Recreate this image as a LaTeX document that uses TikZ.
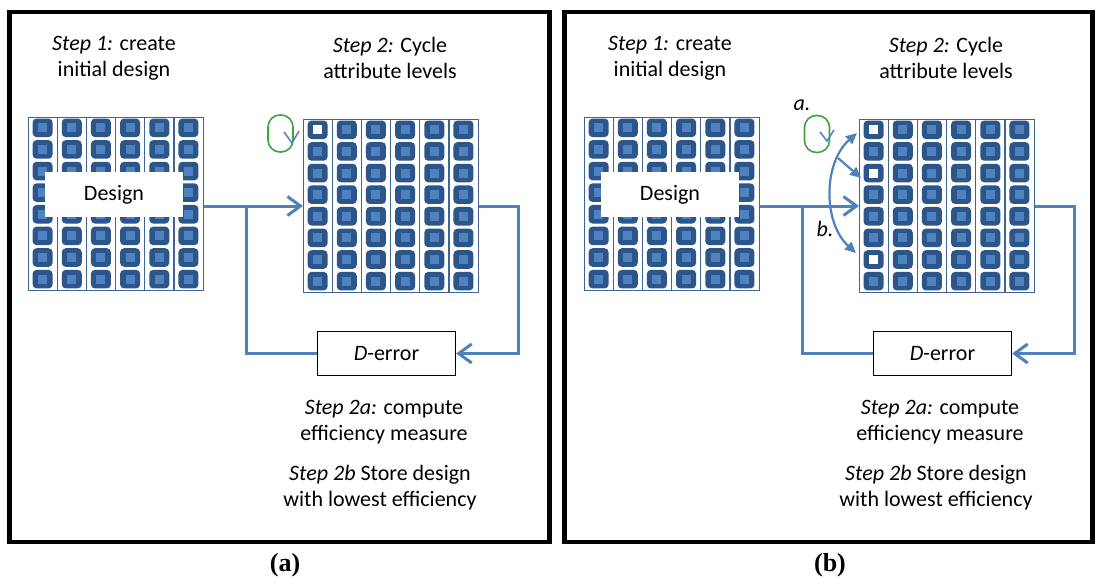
\documentclass[tikz,border=0pt]{standalone}
\usepackage{fontspec}
\setmainfont{Carlito}
\newfontfamily\capfont{Liberation Serif}
\usetikzlibrary{arrows.meta}
\definecolor{lineblue}{HTML}{4F81BD}
\definecolor{gridline}{HTML}{3F6496}
\definecolor{sqdark}{HTML}{2C568A}
\definecolor{sqlight}{HTML}{4F82C0}
\definecolor{loopgreen}{HTML}{3FA33F}
\tikzset{
  frame/.style={draw=black,line width=4.5pt},
  gridbox/.style={draw=gridline,line width=1.3pt,fill=white,minimum width=175pt,minimum height=173pt,inner sep=0pt,anchor=north west},
  conn/.style={draw=lineblue,line width=3pt,line join=miter},
  openarrow/.style={-{Straight Barb[length=13pt,width=19pt,line width=3pt]}},
  arcconn/.style={draw=lineblue,line width=2.2pt},
  filltip/.tip={Triangle[length=11pt,width=10pt]},
  txt/.style={font=\fontsize{22}{26}\selectfont,align=center,inner sep=0pt},
  dbox/.style={draw=black,line width=1.3pt,fill=white,minimum width=138pt,minimum height=44pt,font=\fontsize{22}{26}\selectfont},
  designbox/.style={fill=white,minimum width=138pt,minimum height=45pt,font=\fontsize{22}{26}\selectfont},
  loopst/.style={draw=loopgreen,line width=1.6pt,rounded corners=12pt,minimum width=25pt,minimum height=37pt,inner sep=0pt},
  vmark/.style={draw=lineblue,line width=1.5pt},
  captxt/.style={font=\capfont\bfseries\fontsize{26}{28}\selectfont,inner sep=0pt},
}
\newcommand\mysquares[2]{%
  \foreach \i in {0,...,5}{\foreach \j in {0,...,7}{%
    \fill[sqdark,rounded corners=4pt] ({#1+(\i+0.5)*29.17-10},{#2+(\j+0.5)*21.62-9.3}) rectangle ++(20,18.6);
    \fill[sqlight] ({#1+(\i+0.5)*29.17-4.5},{#2+(\j+0.5)*21.62-4.5}) rectangle ++(9,9);
  }}%
  \foreach \i in {1,...,5}{\draw[gridline,line width=1.3pt] ({#1+\i*29.17},#2) -- ++(0,173);}%
}
\newcommand\mywhite[3]{% x0 y0 row
  \fill[white] ({#1+0.5*29.17-4.5},{#2+(#3+0.5)*21.62-4.5}) rectangle ++(9,9);
}
\begin{document}
\begin{tikzpicture}[x=1pt,y=-1pt]
\useasboundingbox (0,0) rectangle (1096,584);
% frames
\draw[frame] (9.5,12) rectangle (549.5,542);
\draw[frame] (564.5,12) rectangle (1092.5,542);

% ================= panel (a)
\node[txt] (s1a) at (114,58) {\textit{Step 1:} create\\initial design};
\node[txt] (s2a) at (390,58) {\textit{Step 2:} Cycle\\attribute levels};
\node[gridbox] (g1a) at (28,117) {};
\mysquares{28}{117}
\node[designbox] (desa) at (114,194.5) {Design};
\node[gridbox] (g2a) at (303,119) {};
\mysquares{303}{119}
\mywhite{303}{119}{0}
\node[loopst] (la) at (280.5,133.5) {};
\draw[vmark] (284,132) -- (292,143) -- (299,131);
\node[dbox] (da) at (386.5,353.5) {\textit{D}-error};
\coordinate (ya) at (0,206);
\coordinate (ja) at (246,206);
\coordinate (ra) at (518,206);
\draw[conn,openarrow] (g1a.east |- ya) -- (g2a.west |- ya);
\draw[conn] (da.west) -| (ja);
\draw[conn,openarrow] (g2a.east |- ya) -- (ra) |- (da.east);
\node[txt] (s2aa) at (384,422) {\textit{Step 2a:} compute\\efficiency measure};
\node[txt] (s2ba) at (380,488) {\textit{Step 2b} Store design\\with lowest efficiency};
\node[captxt] (capa) at (285,565) {(a)};

% ================= panel (b)
\node[txt] (s1b) at (670,58) {\textit{Step 1:} create\\initial design};
\node[txt] (s2b) at (946,58) {\textit{Step 2:} Cycle\\attribute levels};
\node[gridbox] (g1b) at (584,117) {};
\mysquares{584}{117}
\node[designbox] (desb) at (670,194.5) {Design};
\node[gridbox] (g2b) at (859,119) {};
\mysquares{859}{119}
\mywhite{859}{119}{0}
\mywhite{859}{119}{2}
\mywhite{859}{119}{6}
\node[loopst] (lb) at (817,134) {};
\draw[vmark] (820,132) -- (827,141) -- (834,130);
\node[txt] (alab) at (802,105) {\textit{a.}};
\node[txt] (blab) at (825,229) {\textit{b.}};
\node[dbox] (db) at (942.5,353.5) {\textit{D}-error};
\coordinate (yb) at (0,206);
\coordinate (jb) at (802,206);
\coordinate (rb) at (1074,206);
\draw[conn,openarrow] (g1b.east |- yb) -- (g2b.west |- yb);
\draw[conn] (db.west) -| (jb);
\draw[conn,openarrow] (g2b.east |- yb) -- (rb) |- (db.east);
\coordinate (arct) at (857,133);
\coordinate (arcb) at (856,253);
\coordinate (arcm) at (838,158);
\coordinate (tipc) at (861,178);
\draw[arcconn,filltip-filltip] (arct) .. controls (823,163) and (823,223) .. (arcb);
\draw[arcconn,-filltip] (arcm) -- (tipc);
\node[txt] (s2ab) at (940,422) {\textit{Step 2a:} compute\\efficiency measure};
\node[txt] (s2bb) at (936,488) {\textit{Step 2b} Store design\\with lowest efficiency};
\node[captxt] (capb) at (830,565) {(b)};
\end{tikzpicture}
\end{document}
